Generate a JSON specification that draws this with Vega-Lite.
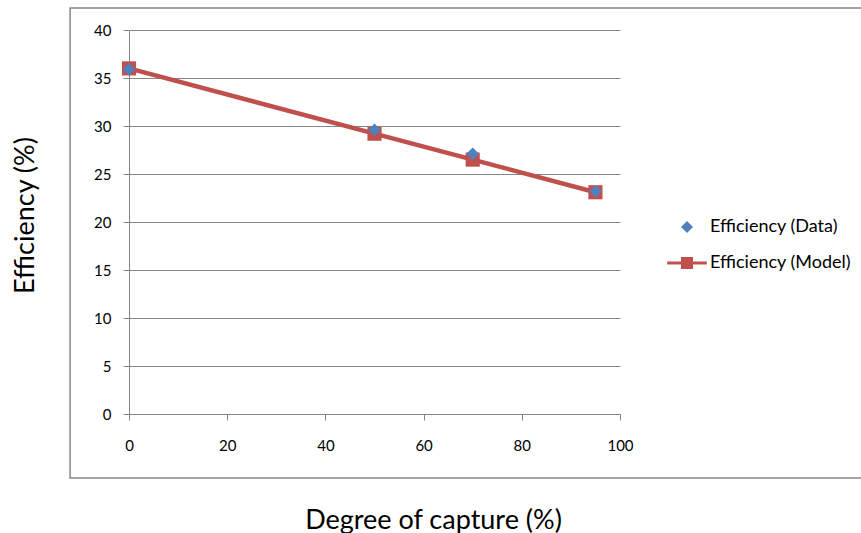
{
  "$schema": "https://vega.github.io/schema/vega-lite/v6.json",
  "autosize": {"type": "none"},
  "padding": {"left": 129, "top": 30, "right": 241, "bottom": 119},
  "width": 491,
  "height": 384,
  "background": "white",
  "config": {
    "view": {"stroke": null},
    "font": "Lato",
    "axis": {
      "labelFont": "Lato",
      "labelFontSize": 15,
      "labelColor": "#000000",
      "labelFlush": false,
      "titleFont": "Lato",
      "titleFontSize": 27,
      "titleFontWeight": "normal",
      "titleColor": "#000000",
      "domainColor": "#868686",
      "tickColor": "#868686",
      "gridColor": "#868686",
      "tickSize": 6
    },
    "legend": {
      "labelFont": "Lato",
      "labelFontSize": 18,
      "labelColor": "#000000"
    }
  },
  "datasets": {
    "eff": [
      {"series": "Efficiency (Data)", "capture": 0, "efficiency": 35.9},
      {"series": "Efficiency (Data)", "capture": 50, "efficiency": 29.6},
      {"series": "Efficiency (Data)", "capture": 70, "efficiency": 27.1},
      {"series": "Efficiency (Data)", "capture": 95, "efficiency": 23.2},
      {"series": "Efficiency (Model)", "capture": 0, "efficiency": 36.0},
      {"series": "Efficiency (Model)", "capture": 50, "efficiency": 29.2},
      {"series": "Efficiency (Model)", "capture": 70, "efficiency": 26.5},
      {"series": "Efficiency (Model)", "capture": 95, "efficiency": 23.1}
    ],
    "frame": [{"x0": -12, "x1": 150, "y0": -6.67, "y1": 42.3}]
  },
  "layer": [
    {
      "data": {"name": "frame"},
      "mark": {"type": "rect", "fill": null, "stroke": "#868686", "strokeWidth": 1.5, "clip": false},
      "encoding": {
        "x": {"field": "x0", "type": "quantitative", "scale": {"domain": [0, 100]}},
        "x2": {"field": "x1"},
        "y": {"field": "y0", "type": "quantitative", "scale": {"domain": [0, 40]}},
        "y2": {"field": "y1"}
      }
    },
    {
      "data": {"name": "eff"},
      "transform": [{"filter": "datum.series === 'Efficiency (Model)'"}],
      "mark": {"type": "line", "color": "#C0504D", "strokeWidth": 4.5},
      "encoding": {
        "x": {
          "field": "capture", "type": "quantitative",
          "scale": {"domain": [0, 100]},
          "axis": {
            "values": [0, 20, 40, 60, 80, 100],
            "grid": false,
            "labelPadding": 18,
            "title": "Degree of capture (%)",
            "titleX": 304,
            "titleY": 114,
            "titleBaseline": "alphabetic",
            "titleAnchor": "middle",
            "titleAlign": "center"
          }
        },
        "y": {
          "field": "efficiency", "type": "quantitative",
          "scale": {"domain": [0, 40]},
          "axis": {
            "values": [0, 5, 10, 15, 20, 25, 30, 35, 40],
            "grid": true,
            "labelPadding": 12,
            "title": "Efficiency (%)",
            "titleX": -96,
            "titleY": 185,
            "titleBaseline": "alphabetic",
            "titleAlign": "center",
            "titleAngle": -90
          }
        }
      }
    },
    {
      "data": {"name": "eff"},
      "transform": [{"filter": "datum.series === 'Efficiency (Model)'"}],
      "mark": {"type": "point", "shape": "square", "filled": true, "opacity": 1, "color": "#C0504D", "size": 200},
      "encoding": {
        "x": {"field": "capture", "type": "quantitative"},
        "y": {"field": "efficiency", "type": "quantitative"}
      }
    },
    {
      "data": {"name": "eff"},
      "transform": [{"filter": "datum.series === 'Efficiency (Data)'"}],
      "mark": {"type": "point", "shape": "diamond", "filled": true, "opacity": 1, "color": "#4F81BD", "size": 160},
      "encoding": {
        "x": {"field": "capture", "type": "quantitative"},
        "y": {"field": "efficiency", "type": "quantitative"}
      }
    },
    {
      "data": {"name": "eff"},
      "mark": {"type": "point", "filled": true, "opacity": 0},
      "encoding": {
        "x": {"field": "capture", "type": "quantitative"},
        "y": {"field": "efficiency", "type": "quantitative"},
        "color": {
          "field": "series", "type": "nominal",
          "scale": {"domain": ["Efficiency (Data)", "Efficiency (Model)"], "range": ["#4F81BD", "#C0504D"]},
          "legend": {
            "title": null,
            "orient": "none",
            "legendX": 549,
            "legendY": 188,
            "symbolSize": 144,
            "symbolOpacity": 1,
            "symbolStrokeWidth": 0,
            "labelOffset": 14,
            "rowPadding": 18
          }
        },
        "shape": {
          "field": "series", "type": "nominal",
          "scale": {"domain": ["Efficiency (Data)", "Efficiency (Model)"], "range": ["diamond", "M-3.3,-0.25H-1V-1H1V-0.25H3.3V0.25H1V1H-1V0.25H-3.3Z"]},
          "legend": null
        }
      }
    }
  ]
}
